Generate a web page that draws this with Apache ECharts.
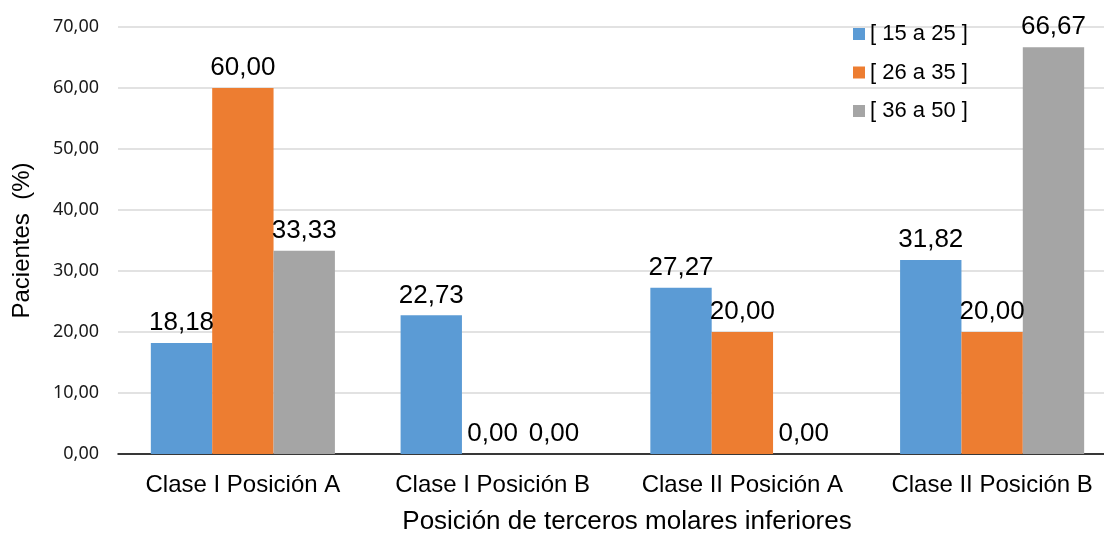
<!DOCTYPE html>
<html>
<head>
<meta charset="utf-8">
<script src="https://cdn.jsdelivr.net/npm/echarts@6/dist/echarts.min.js"></script>
<style>
  html, body { margin: 0; padding: 0; background: #fff; }
  #chart { width: 1104px; height: 536px; }
</style>
</head>
<body>
<div id="chart"></div>
<script>
// Categories (tooth position classes) and age-group percentages
const categories = ['Clase I Posición A', 'Clase I Posición B', 'Clase II Posición A', 'Clase II Posición B'];
const groupNames = ['[ 15 a 25 ]', '[ 26 a 35 ]', '[ 36 a 50 ]'];
const age15to25 = [18.18, 22.73, 27.27, 31.82];
const age26to35 = [60.00, 0.00, 20.00, 20.00];
const age36to50 = [33.33, 0.00, 0.00, 66.67];
const colors = ['#5B9BD5', '#ED7D31', '#A5A5A5'];

const fmt = v => Number(v).toFixed(2).replace('.', ',');

function barSeries(name, data, color) {
  return {
    name: name,
    type: 'bar',
    data: data,
    barGap: '0%',
    barCategoryGap: '26.3%',
    itemStyle: { color: color },
    label: {
      show: true,
      position: 'top',
      distance: 7,
      formatter: p => fmt(p.value),
      color: '#000',
      fontFamily: 'Liberation Sans',
      fontSize: 26
    }
  };
}

const chart = echarts.init(document.getElementById('chart'), null, { renderer: 'canvas' });
chart.setOption({
  animation: false,
  backgroundColor: '#fff',
  color: colors,
  grid: {
    left: 118,
    top: 27,
    bottom: 82,
    width: 999,
    containLabel: false,
    outerBoundsMode: 'none'
  },
  legend: {
    orient: 'vertical',
    left: 848,
    top: 18,
    icon: 'rect',
    itemWidth: 12,
    itemHeight: 12,
    itemGap: 16.5,
    textStyle: {
      fontFamily: 'Liberation Sans',
      fontSize: 22,
      lineHeight: 22,
      color: '#000'
    },
    data: groupNames
  },
  xAxis: {
    type: 'category',
    data: categories,
    axisTick: { show: false },
    axisLine: { lineStyle: { color: '#000', width: 1.5 } },
    axisLabel: {
      interval: 0,
      margin: 19,
      color: '#000',
      fontFamily: 'Liberation Sans',
      fontSize: 24
    },
    name: 'Posición de terceros molares inferiores',
    nameLocation: 'middle',
    nameGap: 55,
    nameTextStyle: {
      color: '#000',
      fontFamily: 'Liberation Sans',
      fontSize: 26,
      padding: [0, 0, 0, 19]
    }
  },
  yAxis: {
    type: 'value',
    min: 0,
    max: 70,
    interval: 10,
    axisLine: { show: false },
    axisTick: { show: false },
    splitLine: { lineStyle: { color: '#d9d9d9', width: 1.5 } },
    axisLabel: {
      margin: 19,
      color: '#1a1a1a',
      fontFamily: 'Noto Sans',
      fontSize: 18,
      formatter: v => fmt(v)
    },
    name: 'Pacientes  (%)',
    nameLocation: 'middle',
    nameGap: 84,
    nameRotate: 90,
    nameTextStyle: {
      color: '#000',
      fontFamily: 'Liberation Sans',
      fontSize: 24
    }
  },
  series: [
    barSeries(groupNames[0], age15to25, colors[0]),
    barSeries(groupNames[1], age26to35, colors[1]),
    barSeries(groupNames[2], age36to50, colors[2])
  ]
});
</script>
</body>
</html>
